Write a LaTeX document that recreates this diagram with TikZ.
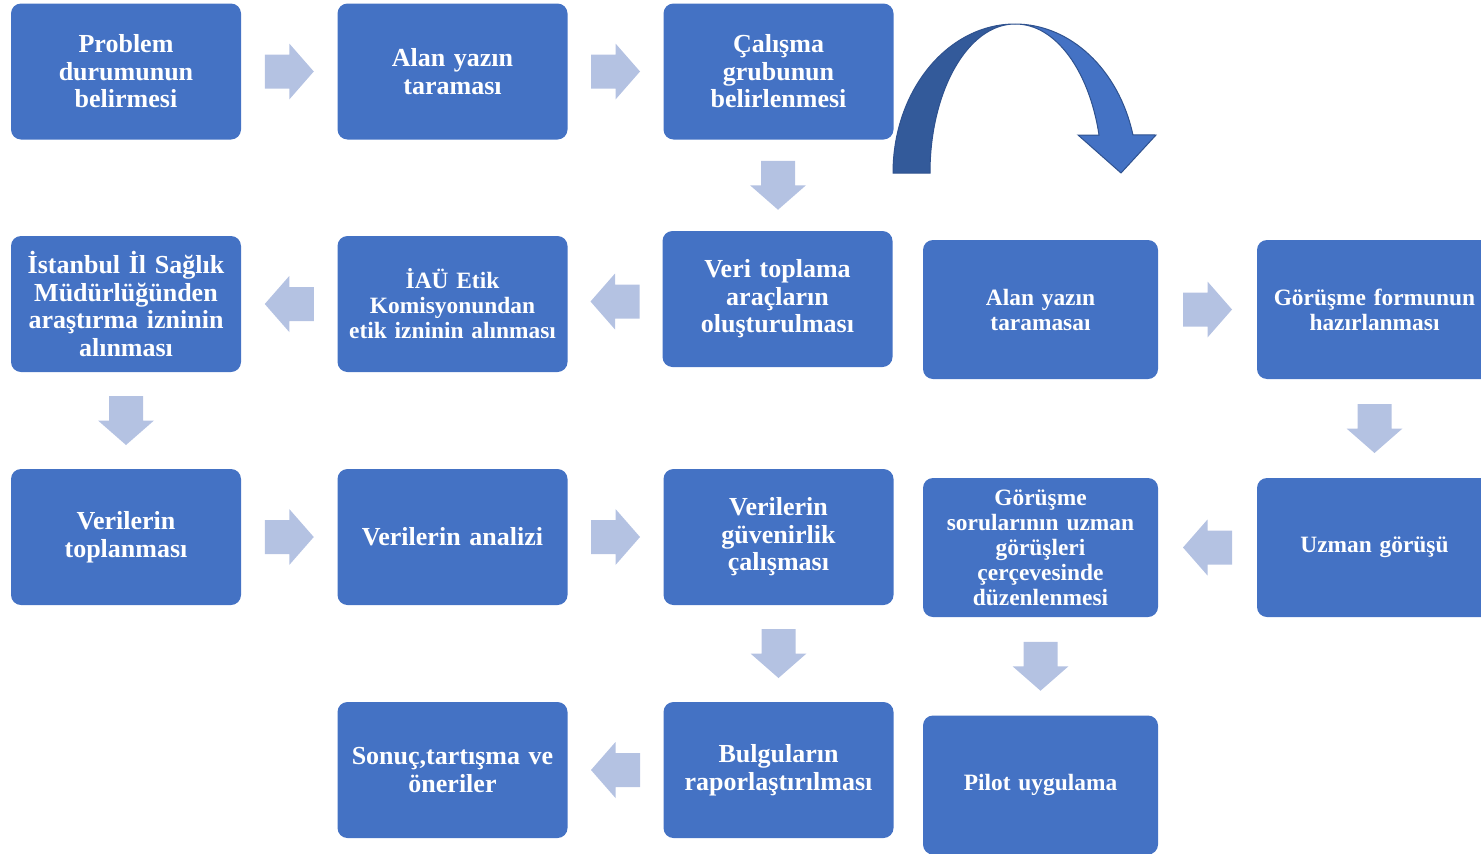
\documentclass[tikz,border=0pt]{standalone}
\usepackage{fontspec}
\setmainfont{Liberation Serif}
\usepackage{tikz}
\usetikzlibrary{calc, positioning}
\definecolor{boxblue}{HTML}{4472C4}
\definecolor{arrowblue}{RGB}{180,194,226}
\definecolor{darkblue}{HTML}{335A9A}
\definecolor{edgeblue}{HTML}{2F528F}

\begin{document}
\begin{tikzpicture}[x=1pt, y=-1pt,
                        box/.style={fill=boxblue, rounded corners=10pt, text=white, align=center, inner sep=0pt,
                            minimum width=230pt, minimum height=136pt, text width=222pt,
                            font=\fontsize{26}{27.5}\selectfont\bfseries},
                        small/.style={font=\fontsize{23.4}{25}\selectfont\bfseries, minimum width=235pt, minimum height=139pt},
                        rarr/.pic={\fill[arrowblue] (-24.5,-17) -- (0,-17) -- (0,-28) -- (24.5,0) -- (0,28) -- (0,17) -- (-24.5,17) -- cycle;}]
                        \clip (0,0) rectangle (1481,854);
                        \node[box] (p1) at (126, 71.5) {Problem\\durumunun\\belirmesi};
                        \node[box] (p2) at (452.5, 71.5) {Alan yazın\\taraması};
                        \node[box] (p3) at (778.5, 71.5) {Çalışma\\grubunun\\belirlenmesi};
                        \node[box] (b1) at (126, 304) {İstanbul İl Sağlık\\Müdürlüğünden\\araştırma izninin\\alınması};
                        \node[box, small, minimum width=230pt, minimum height=136pt] (b2) at (452.5, 304) {İAÜ Etik\\Komisyonundan\\etik izninin alınması};
                        \node[box] (b3) at (777.5, 299) {Veri toplama\\araçların\\oluşturulması};
                        \node[box, small] (b4) at (1040.5, 309.5) {Alan yazın\\taramasaı};
                        \node[box, small] (b5) at (1374.5, 309.5) {Görüşme formunun\\hazırlanması};
                        \node[box] (c1) at (126, 537) {Verilerin\\toplanması};
                        \node[box] (c2) at (452.5, 537) {Verilerin analizi};
                        \node[box] (c3) at (778.5, 537) {Verilerin\\güvenirlik\\çalışması};
                        \node[box, small] (c4) at (1040.5, 547.5) {Görüşme\\sorularının uzman\\görüşleri\\çerçevesinde\\düzenlenmesi};
                        \node[box, small] (c5) at (1374.5, 547.5) {Uzman görüşü};
                        \node[box] (d2) at (452.5, 770) {Sonuç,tartışma ve\\öneriler};
                        \node[box] (d3) at (778.5, 770) {Bulguların\\raporlaştırılması};
                        \node[box, small] (d4) at (1040.5, 785) {Pilot uygulama};
                        \pic at ($(p1)!.5!(p2)$) {rarr};
                        \pic at ($(p2)!.5!(p3)$) {rarr};
                        \pic[rotate=-90] at ($(p3)!.5!(b3)$) {rarr};
                        \pic[rotate=180] at ($(b3)!.5!(b2)$) {rarr};
                        \pic[rotate=180] at ($(b2)!.5!(b1)$) {rarr};
                        \pic[rotate=-90] at ($(b1)!.5!(c1)$) {rarr};
                        \pic at ($(c1)!.5!(c2)$) {rarr};
                        \pic at ($(c2)!.5!(c3)$) {rarr};
                        \pic[rotate=-90] at ($(c3)!.5!(d3)$) {rarr};
                        \pic[rotate=180] at ($(d3)!.5!(d2)$) {rarr};
                        \pic at ($(b4)!.5!(b5)$) {rarr};
                        \pic[rotate=-90] at ($(b5)!.5!(c5)$) {rarr};
                        \pic[rotate=180] at ($(c5)!.5!(c4)$) {rarr};
                        \pic[rotate=-90] at ($(c4)!.5!(d4)$) {rarr};
                        \fill[darkblue, draw=edgeblue, line width=1pt]
                        (893, 173) arc[start angle=180, end angle=270, x radius=122, y radius=149]
                        arc[start angle=270, end angle=180, x radius=85, y radius=149] -- cycle;
                        \fill[boxblue, draw=edgeblue, line width=1pt]
                        (1015, 24) arc[start angle=270, end angle=345.2, x radius=122, y radius=149]
                        -- (1156, 135) -- (1121, 173) -- (1078, 135) -- (1099, 135)
                        arc[start angle=345.2, end angle=270, x radius=86, y radius=149] -- cycle;
                    \end{tikzpicture}
\end{document}
